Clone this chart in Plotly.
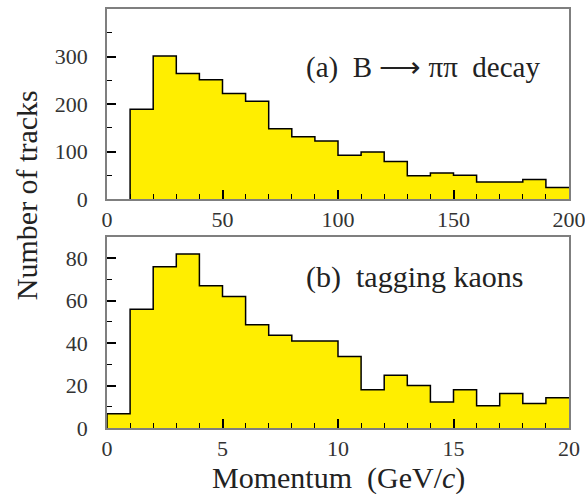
import plotly.graph_objects as go
from plotly.subplots import make_subplots

# Top panel: B -> pi pi decay, bins of 10 GeV/c from 10 to 200
top_edges = list(range(10, 201, 10))
top_counts = [189, 301, 264, 251, 222, 206, 148, 131, 122, 92,
              99, 79, 49, 55, 50, 36, 36, 41, 24]

# Bottom panel: tagging kaons, bins of 1 GeV/c from 0 to 20
bot_edges = list(range(0, 21, 1))
bot_counts = [6.7, 56, 76, 82, 67, 62, 48.6, 43.7, 41, 41,
              33.7, 18, 24.8, 20, 12.2, 18, 10.5, 16.2, 11.6, 14.3]

FILL = "#FFEE00"
FONT = "Liberation Serif"
TXT = "#222222"


def step_xy(edges, counts):
    xs, ys = [edges[0]], [0]
    for i, c in enumerate(counts):
        xs += [edges[i], edges[i + 1]]
        ys += [c, c]
    return xs, ys


fig = make_subplots(rows=2, cols=1, vertical_spacing=0.09)

for row, (edges, counts) in enumerate([(top_edges, top_counts), (bot_edges, bot_counts)], start=1):
    xs, ys = step_xy(edges, counts)
    fig.add_trace(go.Scatter(x=xs, y=ys, mode="lines", fill="tozeroy",
                             fillcolor=FILL, line=dict(color="black", width=1.5),
                             showlegend=False, hoverinfo="skip"), row=row, col=1)

axis_common = dict(showline=True, linecolor="#7f7f7f", linewidth=1.5, mirror=True,
                   ticks="inside", tickcolor="black", tickwidth=1.5, ticklen=9,
                   showgrid=False, zeroline=False, automargin=False,
                   ticklabeloverflow="allow",
                   tickfont=dict(family=FONT, size=22, color="#333333"))

fig.update_xaxes(**axis_common)
fig.update_yaxes(**axis_common, ticklabelstandoff=13)

minor = dict(ticks="inside", ticklen=5, tickcolor="black", tickwidth=1.2)

fig.update_layout(
    xaxis=dict(range=[0, 200], dtick=50, domain=[0, 1], minor=dict(dtick=10, **minor)),
    yaxis=dict(range=[0, 400], domain=[0.5465, 1], tickvals=[0, 100, 200, 300],
               minor=dict(dtick=50, **minor)),
    xaxis2=dict(range=[0, 20], dtick=5, domain=[0, 1], minor=dict(dtick=1, **minor)),
    yaxis2=dict(range=[0, 90], domain=[0, 0.4558], tickvals=[0, 20, 40, 60, 80],
                minor=dict(dtick=10, **minor)),
    width=585, height=494,
    margin=dict(l=107, r=16, t=9, b=66),
    plot_bgcolor="white", paper_bgcolor="white",
    showlegend=False,
)

fig.add_annotation(text="(a)  B ⟶ ππ  decay", xref="x", yref="y",
                   x=137, y=277, xanchor="center", yanchor="middle", showarrow=False,
                   font=dict(family=FONT, size=29, color=TXT))
fig.add_annotation(text="(b)  tagging kaons", xref="x2", yref="y2",
                   x=13.3, y=71, xanchor="center", yanchor="middle", showarrow=False,
                   font=dict(family=FONT, size=30, color=TXT))

fig.add_annotation(text="Momentum  (GeV/<i>c</i>)", xref="paper", yref="paper",
                   x=0.5, y=-0.119, xanchor="center", yanchor="middle", showarrow=False,
                   font=dict(family=FONT, size=30, color=TXT))
fig.add_annotation(text="Number of tracks", xref="paper", yref="paper",
                   x=-0.175, y=0.556, xanchor="center", yanchor="middle", showarrow=False,
                   textangle=-90, font=dict(family=FONT, size=30, color=TXT))

fig.write_html("out.html")
